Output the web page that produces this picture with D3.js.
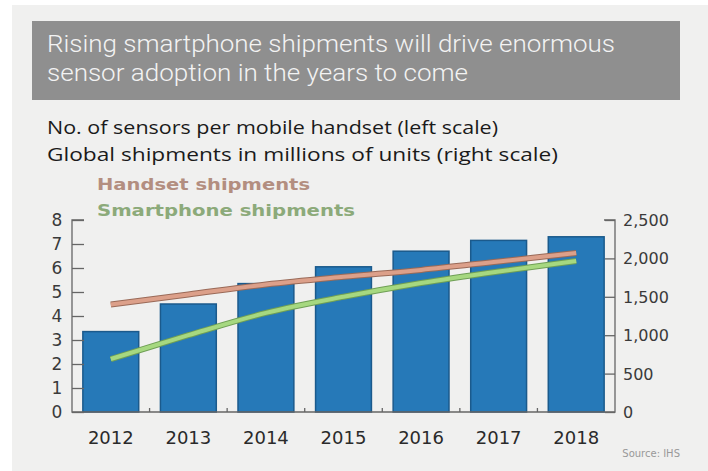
<!DOCTYPE html>
<html><head><meta charset="utf-8">
<script src="https://cdn.jsdelivr.net/npm/d3@7"></script>
<style>body{margin:0;background:#fff}svg{display:block}</style>
</head><body>
<svg id="c" width="708" height="471"></svg>
<script>
const years = ["2012","2013","2014","2015","2016","2017","2018"];
const sensorsPerHandset = [3.35, 4.5, 5.35, 6.05, 6.7, 7.15, 7.3];
const handsetShipments = [1400, 1530, 1660, 1760, 1850, 1960, 2070];
const smartphoneShipments = [690, 1000, 1290, 1500, 1680, 1830, 1965];
const leftTicks = [0,1,2,3,4,5,6,7,8];
const rightTicks = [0,500,1000,1500,2000,2500];

const svg = d3.select("#c");
svg.append("rect").attr("x",12).attr("y",5).attr("width",696).attr("height",466).attr("fill","#f0f0ef");
svg.append("rect").attr("x",32).attr("y",21).attr("width",648).attr("height",79).attr("fill","#8f8f8f");
const titleLines = ["Rising smartphone shipments will drive enormous","sensor adoption in the years to come"];
const titleW = [568, 421];
titleLines.forEach((t,i)=>{
  svg.append("text").attr("x",47).attr("y",52+i*29).attr("fill","#f3f3f3")
    .attr("font-family","Roboto").attr("font-weight",300).attr("font-size",23)
    .attr("textLength",titleW[i]).attr("lengthAdjust","spacingAndGlyphs").text(t);
});
const subs = ["No. of sensors per mobile handset (left scale)","Global shipments in millions of units (right scale)"];
const subW = [451, 511];
subs.forEach((t,i)=>{
  svg.append("text").attr("x",47).attr("y",134+i*27).attr("fill","#1a1a1a")
    .attr("font-family","Open Sans").attr("font-size",17.5)
    .attr("textLength",subW[i]).attr("lengthAdjust","spacingAndGlyphs").text(t);
});
svg.append("text").attr("x",97).attr("y",190).attr("fill","#b38e80")
  .attr("font-family","DejaVu Sans").attr("font-weight","bold").attr("font-size",16)
  .attr("textLength",213).attr("lengthAdjust","spacingAndGlyphs").text("Handset shipments");
svg.append("text").attr("x",97).attr("y",216).attr("fill","#8caa7a")
  .attr("font-family","DejaVu Sans").attr("font-weight","bold").attr("font-size",16)
  .attr("textLength",258).attr("lengthAdjust","spacingAndGlyphs").text("Smartphone shipments");

const x = d3.scaleBand().domain(years).range([72,615]).paddingInner(0.28).paddingOuter(0.14);
const yL = d3.scaleLinear().domain([0,8]).range([412,220]);
const yR = d3.scaleLinear().domain([0,2500]).range([412,220]);

svg.append("g").selectAll("rect").data(years).join("rect")
  .attr("x",d=>x(d)).attr("width",x.bandwidth())
  .attr("y",(d,i)=>yL(sensorsPerHandset[i])).attr("height",(d,i)=>412-yL(sensorsPerHandset[i]))
  .attr("fill","#2679b8").attr("stroke","#1b5a8c").attr("stroke-width",1.5);

const line = d3.line().x((d,i)=>x(years[i])+x.bandwidth()/2).y(d=>yR(d)).curve(d3.curveMonotoneX);
[[handsetShipments,"#dca08a","#9a6a58"],[smartphoneShipments,"#a6d880","#6f9f55"]].forEach(([arr,c,dk])=>{
  svg.append("path").attr("d",line(arr)).attr("fill","none").attr("stroke",dk).attr("stroke-width",6);
  svg.append("path").attr("d",line(arr)).attr("fill","none").attr("stroke",c).attr("stroke-width",4);
});

const ax = svg.append("g").attr("stroke","#666").attr("stroke-width",1.3).attr("fill","none");
ax.append("path").attr("d",`M84,${yL(8)}H72V412H615V${yR(2500)}H604`);
const gl = svg.append("g").attr("transform","translate(72,0)")
  .call(d3.axisRight(yL).tickValues(leftTicks).tickSize(12).tickFormat(""));
gl.select(".domain").remove();
gl.selectAll("line").attr("stroke","#666").attr("stroke-width",1.3);
leftTicks.forEach(v=>{
  svg.append("text").attr("x",57).attr("y",yL(v)+6).attr("text-anchor","middle")
    .attr("font-family","DejaVu Sans").attr("font-size",17).attr("fill","#3a3a3a").text(v);
});
const gr = svg.append("g").attr("transform","translate(615,0)")
  .call(d3.axisLeft(yR).tickValues(rightTicks).tickSize(10).tickFormat(""));
gr.select(".domain").remove();
gr.selectAll("line").attr("stroke","#666").attr("stroke-width",1.3);
rightTicks.forEach(v=>{
  svg.append("text").attr("x",623).attr("y",yR(v)+6)
    .attr("font-family","DejaVu Sans").attr("font-size",16).attr("fill","#3a3a3a").text(d3.format(",")(v));
});
const bounds = years.slice(1).map(d=>x(d)-x.step()*x.paddingInner()/2);
svg.append("g").selectAll("line").data(bounds).join("line")
  .attr("x1",d=>d).attr("x2",d=>d).attr("y1",412).attr("y2",408).attr("stroke","#666").attr("stroke-width",1.3);
svg.append("g").selectAll("text").data(years).join("text")
  .attr("x",d=>x(d)+x.bandwidth()/2).attr("y",444).attr("text-anchor","middle")
  .attr("font-family","DejaVu Sans").attr("font-size",18).attr("fill","#2a2a2a").text(d=>d);
svg.append("text").attr("x",680).attr("y",457).attr("text-anchor","end")
  .attr("font-family","DejaVu Sans").attr("font-size",10).attr("fill","#999").text("Source: IHS");
</script>
</body></html>
